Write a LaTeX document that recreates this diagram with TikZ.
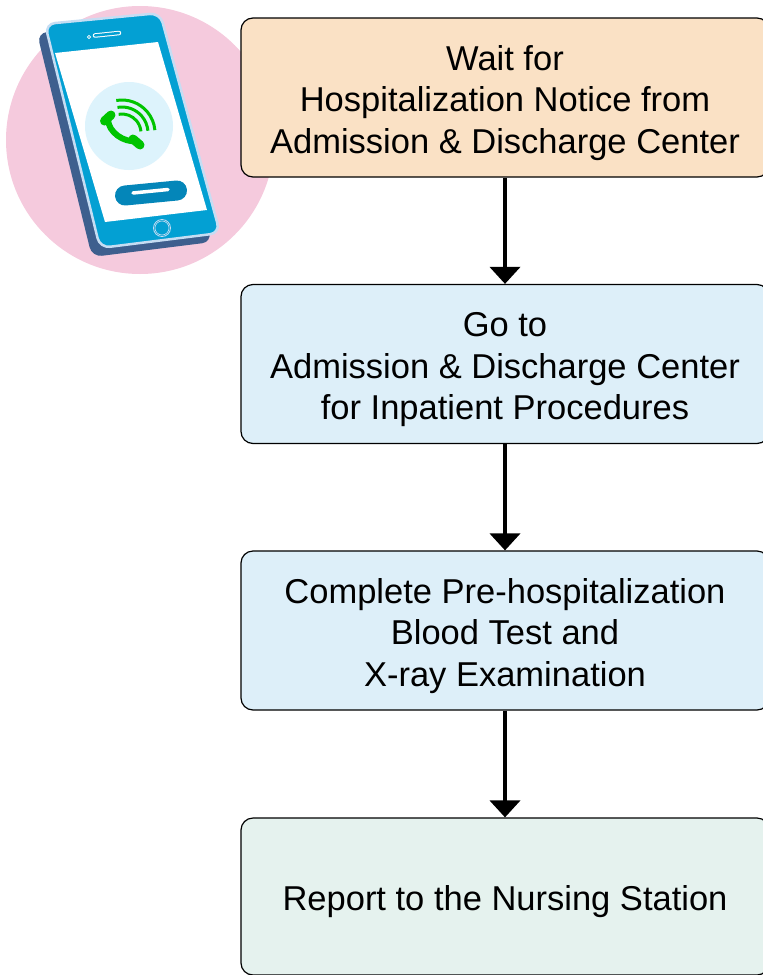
\documentclass[tikz,border=0pt]{standalone}
\usepackage{fontspec}
\setmainfont{Liberation Sans}
\usetikzlibrary{arrows.meta}
\definecolor{pinkbg}{HTML}{F5CADD}
\definecolor{phoneblue}{HTML}{03A0D3}
\definecolor{phoneside}{HTML}{3E5F8E}
\definecolor{phoneedge}{HTML}{C6DDF3}
\definecolor{screencirc}{HTML}{DDF3FC}
\definecolor{callgreen}{HTML}{00C400}
\definecolor{pillblue}{HTML}{0486B9}
\definecolor{peach}{HTML}{FAE1C5}
\definecolor{lightblue}{HTML}{DDEFF9}
\definecolor{lightgreen}{HTML}{E5F2EE}
\newcommand{\topstrut}{\rule{0pt}{35.5pt}}
\tikzset{
  stepbox/.style={draw=black, line width=1.2pt, rounded corners=12pt,
    minimum width=528pt, minimum height=159pt, align=center, inner sep=0pt,
    font=\fontsize{34.5}{41.5}\selectfont},
  flowarrow/.style={line width=4pt, -{Triangle[width=30pt,length=17pt]}}
}
\begin{document}
\begin{tikzpicture}[x=1pt,y=-1pt]
\useasboundingbox (0,0) rectangle (763,975);
% phone illustration
\fill[pinkbg] (140,140) circle (134);
\fill[phoneside, rounded corners=10pt] (37,33) -- (152,22) -- (212,242) -- (92,257) -- cycle;
\filldraw[fill=phoneblue, draw=phoneedge, line width=2.5pt, rounded corners=10pt]
  (45,24) -- (160,13) -- (220,233) -- (100,248) -- cycle;
\fill[white] (55,53) -- (158,42) -- (207,210) -- (105,222) -- cycle;
\fill[screencirc] (129,126) circle (44);
% handset
\draw[callgreen, line width=6pt] (108,119) .. controls (108,132) and (124,143) .. (137,141);
\draw[callgreen, line width=9pt, line cap=round] (104.5,121) -- (111,115);
\draw[callgreen, line width=9pt, line cap=round] (133,139) -- (140,145);
% waves
\draw[callgreen, line width=3pt] (122,133) ++(-100:19) arc (-100:-5:19);
\draw[callgreen, line width=3pt] (122,133) ++(-100:26) arc (-100:-5:26);
\draw[callgreen, line width=3pt] (122,133) ++(-100:33) arc (-100:-5:33);
% button pill
\draw[pillblue, line width=20pt, line cap=round] (125,195.5) -- (177,190.5);
\draw[white, line width=3.5pt, line cap=round] (133,193) -- (168,189.5);
% speaker and camera
\draw[white, line width=4.5pt, line cap=round] (95,35.5) -- (119,33);
\draw[phoneblue, line width=2.5pt, line cap=round] (95,35.5) -- (119,33);
\draw[white, line width=0.8pt] (89,37) circle (1.6);
% home button
\draw[phoneedge, line width=0.8pt] (162,228) circle (8.5);
\draw[phoneedge, line width=0.6pt] (162,228) circle (7);
% flow boxes
\node[stepbox, fill=peach] (b1) at (505,97.5) {\topstrut Wait for\\Hospitalization Notice from\\Admission \& Discharge Center};
\node[stepbox, fill=lightblue] (b2) at (505,364) {\topstrut Go to\\Admission \& Discharge Center\\for Inpatient Procedures};
\node[stepbox, fill=lightblue] (b3) at (505,630.5) {\topstrut Complete Pre-hospitalization\\Blood Test and\\X-ray Examination};
\node[stepbox, fill=lightgreen, minimum height=157pt] (b4) at (505,896.5) {\topstrut Report to the Nursing Station};
\draw[flowarrow] (b1.south) -- (b2.north);
\draw[flowarrow] (b2.south) -- (b3.north);
\draw[flowarrow] (b3.south) -- (b4.north);
\end{tikzpicture}
\end{document}
